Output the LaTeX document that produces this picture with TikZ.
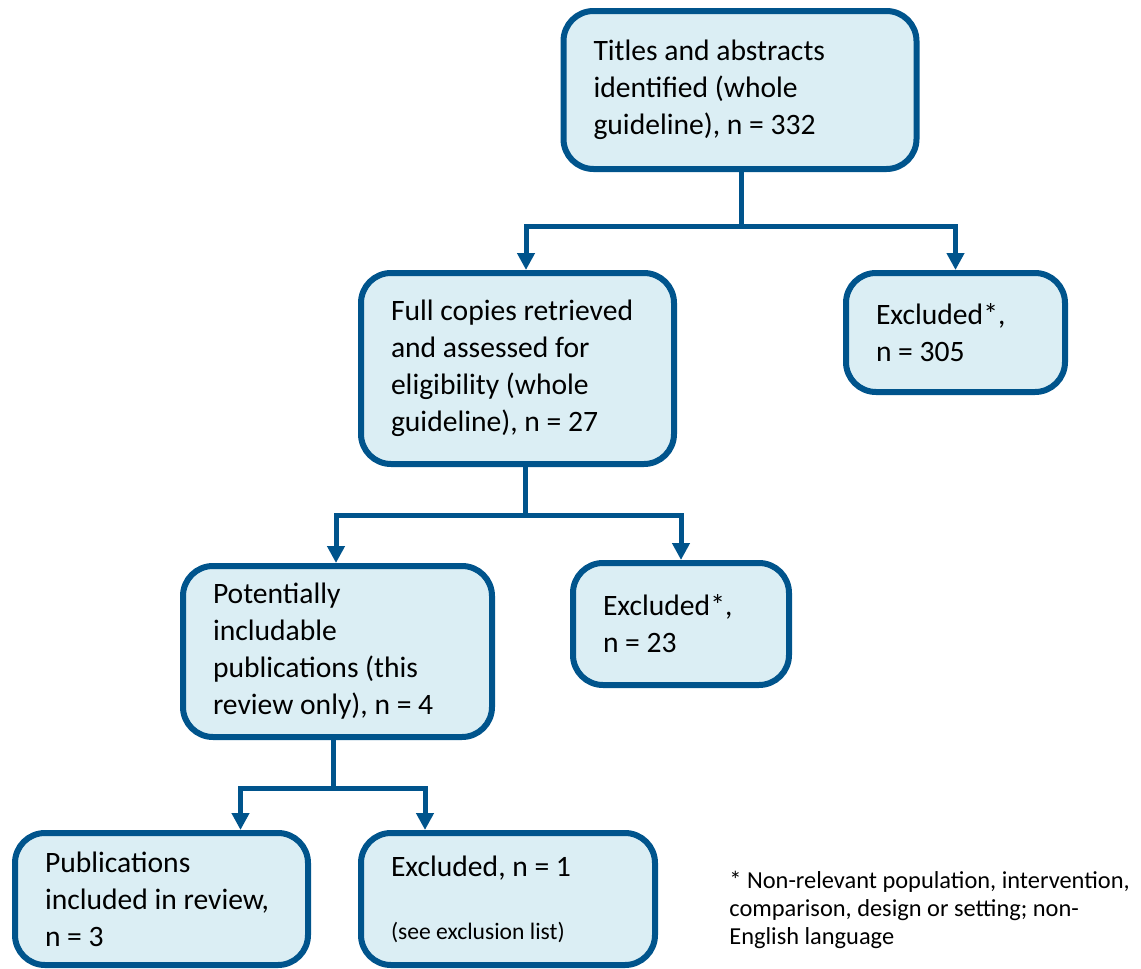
\documentclass[tikz,border=0pt]{standalone}
\usepackage{fontspec}
\setmainfont{Carlito}
\usepackage{tikz}
\usetikzlibrary{arrows.meta, positioning, calc}
\definecolor{flowBlue}{RGB}{0, 84, 140}
\definecolor{flowFill}{RGB}{219, 238, 244}

\begin{document}
\begin{tikzpicture}[
    x=0.5pt, y=-0.5pt,
    every node/.style={execute at begin node={\spaceskip=0pt\xspaceskip=0pt}},
    box/.style={draw=flowBlue, fill=flowFill, line width=3pt, rounded corners=15pt, inner xsep=15pt, inner ysep=0pt, align=left, font=\fontsize{14.8}{18.5}\selectfont},
    link/.style={draw=flowBlue, line width=2.5pt},
    arrow/.style={link, -{Triangle[width=8.5pt, length=8.5pt]}}
]
\useasboundingbox (0,0) rectangle (1141,969);

% Screening stages
\node[box, text width=146.5pt, minimum height=79pt] (titles) at (740, 90) {Titles and abstracts\\identified (whole\\guideline), n = 332};

\node[box, text width=126.5pt, minimum height=95.5pt] (full) at (517.5, 368.5) {Full copies retrieved\\and assessed for\\eligibility (whole\\guideline), n = 27};

\node[box, text width=124.5pt, minimum height=85.5pt] (potential) at (337.5, 651.5) {Potentially\\includable\\publications (this\\review only), n = 4};

\node[box, text width=116.5pt, minimum height=66pt] (included) at (161.5, 899) {Publications\\included in review,\\n = 3};

% Exclusions
\node[box, text width=79.5pt, minimum height=59.5pt] (exclA) at (955.5, 332.5) {Excluded*,\\n = 305};

\node[box, text width=78pt, minimum height=61pt] (exclB) at (681, 624) {Excluded*,\\n = 23};

\node[box, text width=117pt, minimum height=66pt] (exclC) at (508, 899) {Excluded, n = 1\\[13pt]{\fontsize{11.8}{14}\selectfont (see exclusion list)}};

% Footnote
\node[anchor=west, align=left, inner sep=0pt, font=\fontsize{12.2}{14}\selectfont] (note) at (729, 910) {* Non-relevant population, intervention,\\comparison, design or setting; non-\\English language};

% Split points
\coordinate (splitA) at (741, 226);
\coordinate (splitB) at (525, 515);
\coordinate (splitC) at (333, 788);

% Connectors
\draw[link] (titles.south -| splitA) -- (splitA);
\draw[arrow] (splitA) -| ([xshift=4.25pt]full.north);
\draw[arrow] (splitA) -| (exclA.north);

\draw[link] (full.south -| splitB) -- (splitB);
\draw[arrow] (splitB) -| ([xshift=-0.75pt]potential.north);
\draw[arrow] (splitB) -| (exclB.north);

\draw[link] (potential.south -| splitC) -- (splitC);
\draw[arrow] (splitC) -| ([xshift=39.5pt]included.north);
\draw[arrow] (splitC) -| ([xshift=-41.5pt]exclC.north);

\end{tikzpicture}
\end{document}
